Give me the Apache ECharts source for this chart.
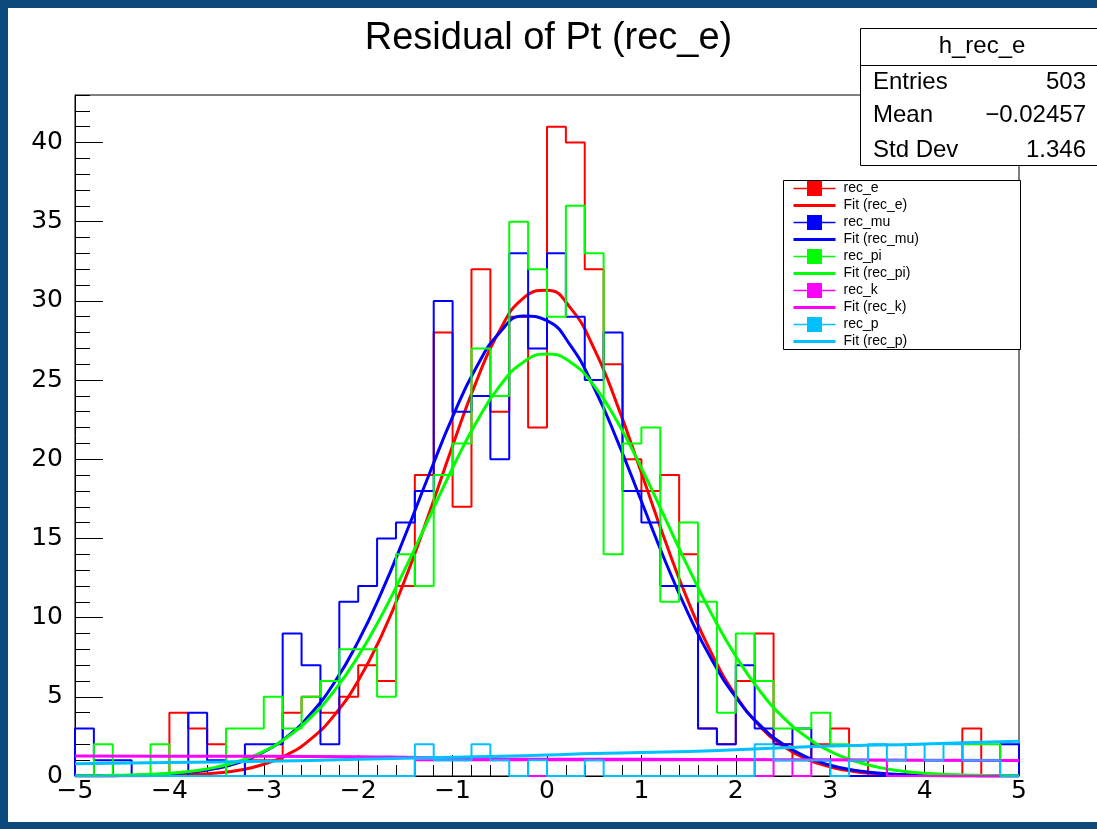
<!DOCTYPE html>
<html>
<head>
<meta charset="utf-8">
<title>Residual of Pt (rec_e)</title>
<script src="https://cdn.jsdelivr.net/npm/echarts@6/dist/echarts.min.js"></script>
<style>
  html, body { margin: 0; padding: 0; background: #ffffff; }
  #chart { position: absolute; left: 0; top: 0; width: 1097px; height: 829px; }
  #frame {
    position: absolute; left: 0; top: 0; width: 1097px; height: 829px;
    box-sizing: border-box; pointer-events: none;
    border-left: 8px solid #0d4a7c; border-top: 8px solid #0d4a7c; border-bottom: 7px solid #0d4a7c;
  }
</style>
</head>
<body>
<div id="chart"></div>
<div id="frame"></div>
<script>
// Histogram binning: 50 bins of width 0.2 on [-5, 5]
const xMin = -5;
const xMax = 5;
const binWidth = 0.2;

// Bin contents (counts per bin, left to right)
const recE  = [0,0,0,0,0,4,3,2,0,1,  1,4,5,4,5,7,6,12,19,28,  17,32,23,29,22,41,40,32,26,20,  18,19,14,3,2,6,9,2,1,2,  3,1,0,0,0,0,0,3,0,0];
const recMu = [3,1,1,0,0,0,4,1,0,2,  2,9,7,2,11,12,15,16,18,30,  23,24,20,33,27,33,29,25,28,18,  16,12,12,3,2,7,3,2,3,1,  0,0,0,0,0,0,0,0,0,2];
const recPi = [0,2,0,0,2,0,0,0,3,3,  5,3,5,6,8,8,5,14,12,19,  21,27,24,35,32,29,36,33,14,21,  22,11,16,11,4,9,6,3,3,4,  2,1,1,1,1,1,1,2,2,0];
const recK  = [0,0,0,0,0,0,0,0,0,0,  0,0,0,0,0,0,0,0,1,1,  1,1,1,1,0,1,1,1,1,1,  1,1,1,1,1,1,0,1,0,1,  1,1,1,0,0,0,0,0,0,0];
const recP  = [0,0,0,0,0,0,0,0,0,0,  0,0,0,0,0,0,0,0,2,1,  1,2,1,0,1,0,0,1,0,0,  0,0,0,0,0,0,2,1,1,1,  0,1,2,1,2,1,2,1,1,0];

// Gaussian fit curves, sampled every 0.25
const fitX  = [-5,-4.75,-4.5,-4.25,-4,-3.75,-3.5,-3.25,-3,-2.75,-2.5,-2.25,-2,-1.75,-1.5,-1.25,-1,-0.75,-0.5,-0.25,0,
               0.25,0.5,0.75,1,1.25,1.5,1.75,2,2.25,2.5,2.75,3,3.25,3.5,3.75,4,4.25,4.5,4.75,5];
const fitE  = [0.00,0.00,0.01,0.02,0.04,0.09,0.19,0.38,0.74,1.35,2.34,3.86,6.02,8.90,12.47,16.56,20.85,24.89,28.15,30.18,30.67,
               29.54,26.97,23.34,19.14,14.88,10.96,7.66,5.07,3.18,1.89,1.07,0.57,0.29,0.14,0.06,0.03,0.01,0.00,0.00,0.00];
const fitMu = [0.01,0.01,0.03,0.06,0.13,0.26,0.48,0.88,1.52,2.50,3.94,5.92,8.50,11.64,15.23,19.02,22.67,25.79,28.01,29.05,28.75,
               27.17,24.50,21.10,17.35,13.61,10.20,7.29,4.98,3.24,2.02,1.20,0.68,0.37,0.19,0.09,0.04,0.02,0.01,0.00,0.00];
const fitPi = [0.01,0.02,0.05,0.09,0.17,0.32,0.56,0.96,1.56,2.46,3.72,5.41,7.56,10.16,13.12,16.29,19.45,22.32,24.63,26.13,26.65,
               26.13,24.63,22.32,19.45,16.29,13.12,10.16,7.56,5.41,3.72,2.46,1.56,0.96,0.56,0.32,0.17,0.09,0.05,0.02,0.01];
const fitKX = [-5,-4,-3,-2,-1.5,-1,-0.5,0,1,2,3,4,5];
const fitK  = [1.26,1.25,1.24,1.22,1.18,1.12,1.07,1.06,1.05,1.04,1.02,0.99,0.98];
const fitPX = [-5,-4,-3,-2,-1,-0.5,0,0.5,1,1.5,2,2.5,3,3.5,4,4.5,5];
const fitP  = [0.78,0.85,0.93,1.05,1.18,1.25,1.32,1.42,1.48,1.55,1.65,1.78,1.90,1.95,2.02,2.12,2.20];

// Axis ticks
const xTickStep = 1;
const yMajorStep = 5;
const yMinorStep = 1;
const yMax = 43;

// Statistics box
const statsTitle = 'h_rec_e';
const statsLabels = ['Entries', 'Mean', 'Std Dev'];
const statsValues = ['503', '\u22120.02457', '1.346'];

const chartTitle = 'Residual of Pt (rec_e)';
const FONT = '"Liberation Sans", Arial, Helvetica, sans-serif';
const AXIS_FONT = '"DejaVu Sans", "Liberation Sans", sans-serif';

const colE = '#ff0000', colMu = '#0000ff', colPi = '#00ff00', colK = '#ff00ff', colP = '#00c0ff';

// Outline of a histogram as a closed step path in data coordinates
function outline(counts) {
  const pts = [[xMin, 0]];
  counts.forEach(function (c, i) {
    const lo = xMin + i * binWidth;
    const hi = xMin + (i + 1) * binWidth;
    pts.push([lo, c], [hi, c]);
  });
  pts.push([xMax, 0]);
  return pts;
}

function histSeries(name, counts, color) {
  return {
    name: name, type: 'line', data: outline(counts),
    showSymbol: false, symbol: 'rect',
    color: color, lineStyle: { width: 2, color: color }, itemStyle: { color: color },
    clip: false, silent: true, animation: false
  };
}

function fitSeries(name, xs, ys, color) {
  return {
    name: name, type: 'line', data: xs.map(function (x, i) { return [x, ys[i]]; }),
    showSymbol: false, symbol: 'none', smooth: 0.5,
    color: color, lineStyle: { width: 3, color: color, join: 'round' }, itemStyle: { color: color },
    clip: true, silent: true, animation: false
  };
}

function minusLabel(v) {
  return v < 0 ? '\u2212' + Math.abs(v) : String(v);
}

const series = [
  histSeries('rec_e', recE, colE),   fitSeries('Fit (rec_e)', fitX, fitE, colE),
  histSeries('rec_mu', recMu, colMu), fitSeries('Fit (rec_mu)', fitX, fitMu, colMu),
  histSeries('rec_pi', recPi, colPi), fitSeries('Fit (rec_pi)', fitX, fitPi, colPi),
  histSeries('rec_k', recK, colK),   fitSeries('Fit (rec_k)', fitKX, fitK, colK),
  histSeries('rec_p', recP, colP),   fitSeries('Fit (rec_p)', fitPX, fitP, colP)
];

const legendData = series.map(function (s) {
  const isFit = s.name.indexOf('Fit') === 0;
  return isFit
    ? { name: s.name, itemStyle: { opacity: 0 }, lineStyle: { width: 3 } }
    : { name: s.name, lineStyle: { width: 1.5 } };
});

const statsGraphics = [
  { type: 'rect', z: 100, shape: { x: 860.5, y: 28.5, width: 244, height: 137 },
    style: { fill: '#ffffff', stroke: '#000000', lineWidth: 1 } },
  { type: 'line', z: 101, shape: { x1: 860.5, y1: 65.5, x2: 1104, y2: 65.5 },
    style: { stroke: '#000000', lineWidth: 1 } },
  { type: 'text', z: 102, x: 982, y: 46,
    style: { text: statsTitle, font: '24px ' + FONT, fill: '#000', align: 'center', verticalAlign: 'middle' } }
];
statsLabels.forEach(function (lab, i) {
  const y = [82, 115, 150][i];
  statsGraphics.push({ type: 'text', z: 102, x: 873, y: y,
    style: { text: lab, font: '24px ' + FONT, fill: '#000', align: 'left', verticalAlign: 'middle' } });
  statsGraphics.push({ type: 'text', z: 102, x: 1086, y: y,
    style: { text: statsValues[i], font: '24px ' + FONT, fill: '#000', align: 'right', verticalAlign: 'middle' } });
});

const legendBox = { type: 'rect', z: 100, shape: { x: 783.5, y: 180.5, width: 237, height: 169 },
  style: { fill: '#ffffff', stroke: '#000000', lineWidth: 1 } };

const chart = echarts.init(document.getElementById('chart'), null, { renderer: 'canvas' });
chart.setOption({
  backgroundColor: '#ffffff',
  animation: false,
  title: {
    text: chartTitle, left: 'center', top: 20, padding: 0,
    textStyle: { fontFamily: FONT, fontSize: 38, fontWeight: 'normal', color: '#000' }
  },
  grid: {
    left: 75, right: 78, top: 95, bottom: 53,
    show: true, borderColor: '#000', borderWidth: 1, backgroundColor: 'transparent'
  },
  xAxis: {
    type: 'value', min: xMin, max: xMax, interval: xTickStep,
    axisLine: { show: true, onZero: false, lineStyle: { color: '#000', width: 1 } },
    axisTick: { show: true, inside: true, length: 21, lineStyle: { color: '#000', width: 1 } },
    minorTick: { show: true, splitNumber: 5, length: 11, lineStyle: { color: '#000', width: 1 } },
    axisLabel: { fontFamily: AXIS_FONT, fontSize: 25, color: '#000', margin: 3, formatter: minusLabel },
    splitLine: { show: false }, minorSplitLine: { show: false }
  },
  yAxis: [
    {
      type: 'value', min: 0, max: yMax, interval: yMinorStep, position: 'left',
      axisLine: { show: true, onZero: false, lineStyle: { color: '#000', width: 1 } },
      axisTick: { show: true, inside: true, length: 15, lineStyle: { color: '#000', width: 1 } },
      axisLabel: { show: false }, splitLine: { show: false }
    },
    {
      type: 'value', min: 0, max: yMax, interval: yMajorStep, position: 'left', offset: 0,
      axisLine: { show: false, onZero: false },
      axisTick: { show: true, inside: true, length: 28, lineStyle: { color: '#000', width: 1 } },
      axisLabel: { fontFamily: AXIS_FONT, fontSize: 25, color: '#000', margin: 12, showMaxLabel: false },
      splitLine: { show: false }
    }
  ],
  legend: {
    z: 110, orient: 'vertical', left: 792, top: 181, padding: 0,
    itemWidth: 42, itemHeight: 18.75, itemGap: 2, selectedMode: false,
    textStyle: { fontFamily: FONT, fontSize: 14, color: '#000', padding: [0, 0, 0, 3] },
    data: legendData
  },
  graphic: statsGraphics.concat([legendBox]),
  series: series
});
</script>
</body>
</html>
